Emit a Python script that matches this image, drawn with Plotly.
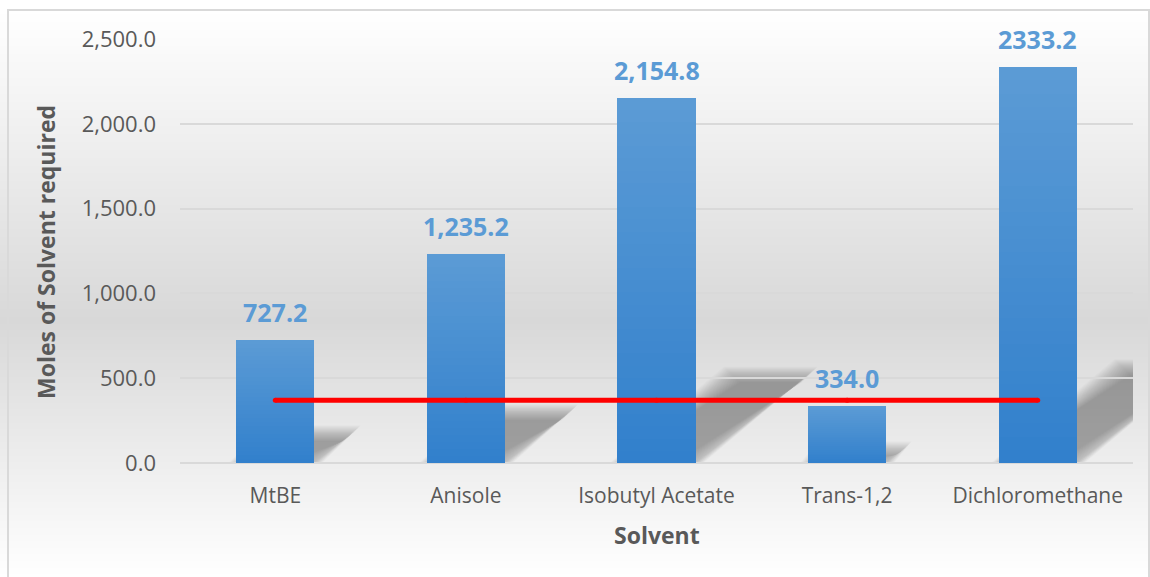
import base64
import struct
import zlib

import plotly.graph_objects as go

# ---- data -------------------------------------------------------------
solvents = ["MtBE", "Anisole", "Isobutyl Acetate", "Trans-1,2", "Dichloromethane"]
moles_required = [727.2, 1235.2, 2154.8, 334.0, 2333.2]
label_grouping = [True, True, True, True, False]   # thousands separator per label
target_moles = 370.0
y_ticks = [0, 500, 1000, 1500, 2000, 2500]

# ---- geometry ---------------------------------------------------------
W, H = 1150, 577
ML, MR, MT, MB = 180, 17, 39, 114
PW, PH = W - ML - MR, H - MT - MB
Y_MAX = 2500.0
BAR_W = 0.41
px_per_cat = PW / len(solvents)
px_per_unit = PH / Y_MAX

LIGHT = (91, 155, 213)
DARK = (50, 128, 204)
GREY = "#595959"
FONT = "Open Sans"


def mix(c1, c2, t):
    return "rgb(%d,%d,%d)" % tuple(round(a + (b - a) * t) for a, b in zip(c1, c2))


def gradient_png(stops, height):
    """One-pixel-wide greyscale PNG following piecewise linear stops."""
    rows = []
    for yy in range(height):
        for (y0, v0), (y1, v1) in zip(stops, stops[1:]):
            if y0 <= yy <= y1:
                t = 0 if y1 == y0 else (yy - y0) / (y1 - y0)
                rows.append(round(v0 + (v1 - v0) * t))
                break
    raw = b"".join(b"\x00" + bytes([v]) for v in rows)

    def chunk(tag, data):
        return (struct.pack(">I", len(data)) + tag + data
                + struct.pack(">I", zlib.crc32(tag + data) & 0xFFFFFFFF))

    png = (b"\x89PNG\r\n\x1a\n"
           + chunk(b"IHDR", struct.pack(">IIBBBBB", 1, height, 8, 0, 0, 0, 0))
           + chunk(b"IDAT", zlib.compress(raw))
           + chunk(b"IEND", b""))
    return "data:image/png;base64," + base64.b64encode(png).decode()


def px_to_paper_x(px):
    return (px - ML) / PW


def px_to_paper_y(py):
    return (H - MB - py) / PH


xs = list(range(len(solvents)))
fig = go.Figure()

# bars with a vertical light-to-dark fill built from overlapping layers
N_LAYERS = 30
for i in range(N_LAYERS):
    frac = (N_LAYERS - i) / N_LAYERS
    fig.add_trace(go.Bar(
        x=xs, y=[v * frac for v in moles_required], width=BAR_W,
        marker=dict(color=mix(LIGHT, DARK, i / (N_LAYERS - 1)), line=dict(width=0)),
        hoverinfo="skip" if i else "y", showlegend=False,
    ))

# target line (round ends from small markers)
fig.add_trace(go.Scatter(
    x=xs, y=[target_moles] * len(xs), mode="lines+markers",
    line=dict(color="#ff0000", width=5),
    marker=dict(color="#ff0000", size=5, line=dict(width=0)),
    showlegend=False, hoverinfo="skip",
))

# soft perspective shadows cast behind each bar: stacked translucent
# parallelograms, each inset a little further so the edges fade out
shapes = []
N_SHADOW = 22
for xc, v in zip(xs, moles_required):
    skew = v * 0.053 / px_per_cat
    rise = v * 0.041 / px_per_unit
    for k in range(N_SHADOW):
        d = -8 + k * 0.75
        ix, iy = d / px_per_cat, d / px_per_unit
        x0, x1 = xc - BAR_W / 2 + ix, xc + BAR_W / 2 - ix
        y0, y1 = max(iy, 0), rise - iy
        if x1 <= x0 or y1 <= y0:
            continue
        path = (f"M{x0},{y0} L{x1},{y0} L{x1 + skew},{y1} "
                f"L{x0 + skew},{y1} Z")
        shapes.append(dict(type="path", path=path, xref="x", yref="y",
                           fillcolor="rgba(0,0,0,0.014)", line=dict(width=0),
                           layer="below"))

# chart-area border
shapes.append(dict(type="rect", xref="paper", yref="paper",
                   x0=px_to_paper_x(8), x1=px_to_paper_x(1149),
                   y0=px_to_paper_y(10), y1=px_to_paper_y(578),
                   line=dict(color="#d9d9d9", width=2), fillcolor="rgba(0,0,0,0)",
                   layer="below"))

# value labels above bars
annotations = []
for xc, v, grouped in zip(xs, moles_required, label_grouping):
    annotations.append(dict(
        x=xc, y=v, xref="x", yref="y", text=f"{v:,.1f}" if grouped else f"{v:.1f}",
        showarrow=False, yanchor="bottom", yshift=9,
        font=dict(family=FONT, size=25, color="#5b9bd5", weight="bold"),
    ))

# axis titles
annotations.append(dict(
    x=px_to_paper_x(46), y=px_to_paper_y(252), xref="paper", yref="paper",
    xanchor="center", yanchor="middle",
    text="Moles of Solvent required", textangle=-90, showarrow=False,
    font=dict(family=FONT, size=23, color=GREY, weight="bold"),
))
annotations.append(dict(
    x=0.5, y=px_to_paper_y(535), xref="paper", yref="paper",
    xanchor="center", yanchor="middle",
    text="Solvent", showarrow=False,
    font=dict(family=FONT, size=23, color=GREY, weight="bold"),
))

fig.update_layout(
    width=W, height=H,
    margin=dict(l=ML, r=MR, t=MT, b=MB, pad=0),
    barmode="overlay",
    bargap=0,
    paper_bgcolor="white",
    plot_bgcolor="rgba(0,0,0,0)",
    shapes=shapes,
    annotations=annotations,
    images=[dict(
        source=gradient_png([(0, 255), (10, 255), (320, 216), (577, 255)], H),
        xref="paper", yref="paper",
        x=px_to_paper_x(0), y=px_to_paper_y(0),
        sizex=W / PW, sizey=H / PH,
        xanchor="left", yanchor="top", sizing="stretch", layer="below",
    )],
    xaxis=dict(
        range=[-0.5, len(solvents) - 0.5],
        tickvals=xs, ticktext=solvents,
        showgrid=False, zeroline=False, showline=False, ticks="",
        ticklabelstandoff=18,
        tickfont=dict(family=FONT, size=21, color=GREY),
    ),
    yaxis=dict(
        range=[0, Y_MAX], tickvals=y_ticks, tickformat=",.1f",
        showgrid=True, gridcolor="#d9d9d9", gridwidth=1.5,
        zeroline=True, zerolinecolor="#d9d9d9", zerolinewidth=1.5,
        showline=False, ticks="",
        ticklabelstandoff=23,
        tickfont=dict(family=FONT, size=22, color=GREY),
    ),
)

fig.write_html("out.html")
